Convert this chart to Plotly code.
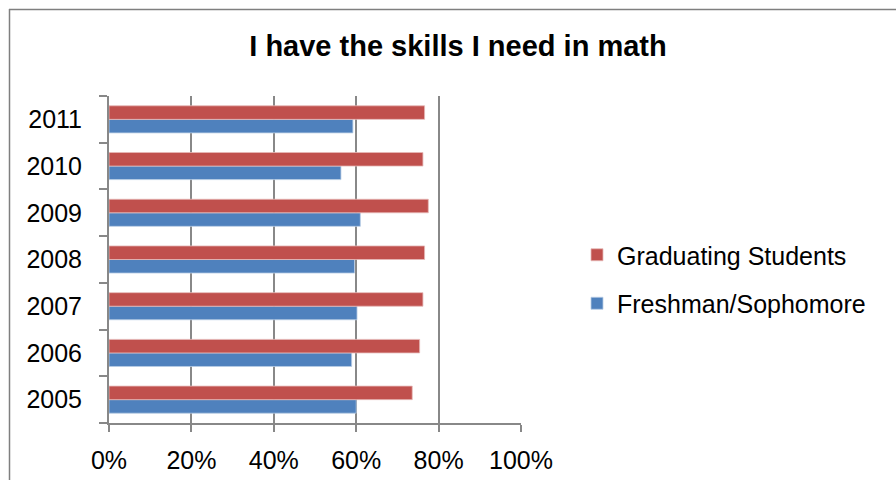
import plotly.graph_objects as go

# Survey: share of students agreeing "I have the skills I need in math"
years = ["2005", "2006", "2007", "2008", "2009", "2010", "2011"]
graduating = [0.736, 0.754, 0.762, 0.766, 0.775, 0.762, 0.766]
freshman_sophomore = [0.600, 0.589, 0.602, 0.596, 0.610, 0.563, 0.592]
x_ticks = [0, 0.2, 0.4, 0.6, 0.8, 1.0]
x_tick_labels = ["0%", "20%", "40%", "60%", "80%", "100%"]

RED = "#C0504D"
BLUE = "#4F81BD"
GRID = "#888888"
FONT = "Liberation Sans, Arial, sans-serif"

W, H = 896, 480
L, R, T, B = 109, 375, 96, 57
plot_w = W - L - R
plot_h = H - T - B


def px_x(px):
    return (px - L) / plot_w


def px_y(py):
    return (H - B - py) / plot_h


fig = go.Figure()
fig.add_trace(go.Bar(
    y=years, x=freshman_sophomore, orientation="h", name="Freshman/Sophomore",
    marker=dict(color=BLUE, line=dict(color="#B9CDE5", width=0.8)),
    legendgroup="fs", legendrank=2,
))
fig.add_trace(go.Bar(
    y=years, x=graduating, orientation="h", name="Graduating Students",
    marker=dict(color=RED, line=dict(color="#E6B9B8", width=0.8)),
    legendgroup="gs", legendrank=1,
))

fig.update_layout(
    width=W, height=H,
    margin=dict(l=L, r=R, t=T, b=B, pad=0, autoexpand=False),
    paper_bgcolor="white", plot_bgcolor="white",
    barmode="group", bargap=0.42, bargroupgap=0,
    font=dict(family=FONT, size=25, color="black"),
    title=dict(
        text="<b>I have the skills I need in math</b>",
        font=dict(family=FONT, size=29, color="black"),
        x=458 / W, xanchor="center", xref="container",
        y=1 - 46 / H, yanchor="middle", yref="container",
    ),
    legend=dict(
        x=px_x(577), xanchor="left",
        y=px_y(279), yanchor="middle",
        traceorder="grouped", tracegroupgap=13,
        font=dict(family=FONT, size=25, color="black"),
        bgcolor="rgba(0,0,0,0)",
    ),
    xaxis=dict(
        range=[0, 1], tickvals=x_ticks, ticktext=x_tick_labels,
        showgrid=True, gridcolor=GRID, gridwidth=2,
        showline=True, linecolor=GRID, linewidth=2,
        ticks="outside", ticklen=7, tickcolor=GRID, tickwidth=2,
        ticklabelstandoff=7, zeroline=False, automargin=False,
        tickfont=dict(family=FONT, size=25, color="black"),
    ),
    yaxis=dict(
        type="category", categoryorder="array", categoryarray=years,
        showgrid=False, showline=True, linecolor=GRID, linewidth=2,
        ticks="outside", ticklen=8, tickcolor=GRID, tickwidth=2,
        tickson="boundaries", ticklabelstandoff=20, automargin=False,
        tickfont=dict(family=FONT, size=25, color="black"),
    ),
    shapes=[
        # outer chart frame (top and left edges)
        dict(type="line", xref="paper", yref="paper",
             x0=px_x(9), x1=px_x(W + 5), y0=px_y(9.5), y1=px_y(9.5),
             line=dict(color="#7f7f7f", width=1.5)),
        dict(type="line", xref="paper", yref="paper",
             x0=px_x(9.5), x1=px_x(9.5), y0=px_y(9), y1=px_y(H + 5),
             line=dict(color="#7f7f7f", width=1.5)),
    ],
)

fig.write_html("out.html")
